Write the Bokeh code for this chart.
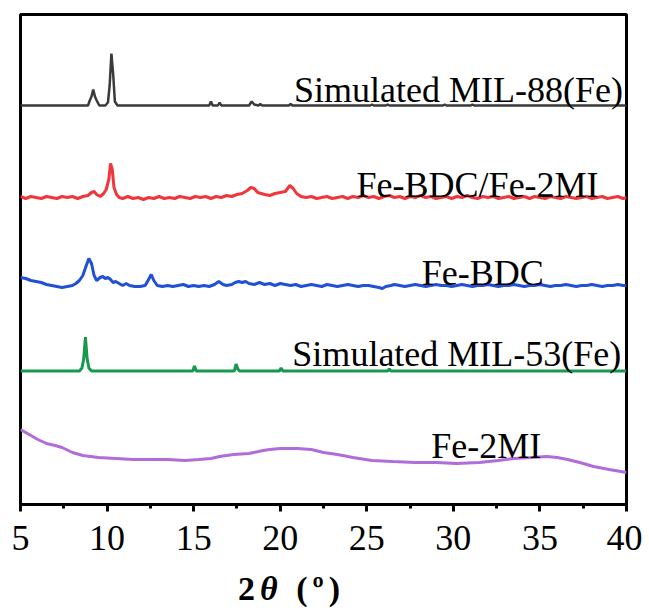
from bokeh.plotting import figure
from bokeh.models import Range1d, FixedTicker, Label, Div
from bokeh.layouts import column
from bokeh.embed import file_html
from bokeh.resources import INLINE

# ---- data (2theta in degrees, intensity in arbitrary units above each baseline) ----
mil88 = [(5.0, 0), (8.9, 0), (9.0, 5), (9.1, 9), (9.2, 16), (9.3, 9), (9.4, 5), (9.55, 0),
         (9.9, 0), (10.05, 3), (10.15, 20), (10.25, 52), (10.35, 32), (10.45, 4), (10.6, 0),
         (15.9, 0), (16.0, 4), (16.1, 0), (16.4, 0), (16.5, 3), (16.6, 0),
         (18.2, 0), (18.35, 4), (18.5, 1), (18.75, 0), (18.85, 1.5), (18.95, 0),
         (20.5, 0), (20.6, 1.5), (20.7, 0), (25.2, 0), (25.3, 1), (25.4, 0),
         (26.1, 0), (26.2, 1), (26.3, 0), (29.4, 0), (29.5, 1), (29.6, 0),
         (31.0, 0), (31.1, 1), (31.2, 0), (40.0, 0)]

fe_bdc_2mi = [(5.0, 1), (5.3, -1), (5.6, 1), (5.9, 0), (6.2, -1), (6.5, 1), (6.8, 0), (7.1, -1),
              (7.4, 1), (7.7, 0), (8.0, 1), (8.3, -1), (8.6, 1), (8.9, 2), (9.1, 5), (9.25, 6),
              (9.4, 3), (9.6, 1), (9.8, 4), (9.95, 8), (10.1, 18), (10.2, 34), (10.3, 28),
              (10.4, 10), (10.55, 3), (10.7, 0), (10.9, -1), (11.2, 1), (11.5, -1), (11.8, 0),
              (12.1, -2), (12.4, 0), (12.7, -1), (13.0, 1), (13.3, -1), (13.6, 0), (13.9, -1),
              (14.2, 1), (14.5, 0), (14.8, -1), (15.1, 1), (15.4, 0), (15.7, 1), (16.0, -1),
              (16.3, 1), (16.6, 0), (16.9, 2), (17.2, 1), (17.5, 3), (17.8, 4), (18.1, 7),
              (18.3, 10), (18.5, 9), (18.7, 5), (18.9, 4), (19.1, 3), (19.4, 2), (19.7, 4),
              (20.0, 5), (20.3, 6), (20.55, 12), (20.75, 9), (20.95, 4), (21.2, 1), (21.5, 0),
              (21.8, 1), (22.1, -1), (22.4, 0), (22.7, 1), (23.0, -1), (23.3, 0), (23.6, 1),
              (23.9, -1), (24.2, 1), (24.5, 0), (24.8, 2), (25.1, 0), (25.4, 1), (25.7, -1),
              (26.0, 1), (26.3, 2), (26.6, 0), (26.9, 1), (27.2, -1), (27.5, 1), (27.8, 0),
              (28.1, 2), (28.4, 0), (28.7, 1), (29.0, -1), (29.3, 0), (29.6, 1), (29.9, -1),
              (30.2, 1), (30.5, 0), (30.8, 2), (31.1, 0), (31.4, -1), (31.7, 1), (32.0, 0),
              (32.3, 1), (32.6, -1), (32.9, 0), (33.2, 1), (33.5, -1), (33.8, 0), (34.1, 1),
              (34.4, -1), (34.7, 1), (35.0, 0), (35.3, -1), (35.6, 1), (35.9, 0), (36.2, -1),
              (36.5, 1), (36.8, 0), (37.1, -1), (37.4, 0), (37.7, 1), (38.0, -1), (38.3, 0),
              (38.6, 1), (38.9, -1), (39.2, 0), (39.5, 1), (39.8, -1), (40.0, 0)]

fe_bdc = [(5.0, 8), (5.3, 7), (5.6, 5), (5.9, 4), (6.2, 3), (6.5, 1), (6.8, 0), (7.1, -1),
          (7.4, -2), (7.7, -1), (8.0, 0), (8.2, 2), (8.4, 5), (8.6, 10), (8.8, 20), (8.95, 27),
          (9.1, 22), (9.25, 10), (9.4, 5), (9.6, 8), (9.75, 9), (9.9, 7), (10.05, 8), (10.2, 6),
          (10.35, 3), (10.5, 4), (10.7, 2), (10.9, 0), (11.1, 2), (11.3, 0), (11.6, -1),
          (11.9, -1), (12.2, 0), (12.4, 6), (12.55, 11), (12.7, 5), (12.9, 0), (13.2, -1),
          (13.5, 0), (13.8, -1), (14.1, 0), (14.4, 1), (14.7, -1), (15.0, 0), (15.3, -1),
          (15.6, 0), (15.9, -1), (16.2, 1), (16.45, 4), (16.7, 1), (16.9, 0), (17.2, 1),
          (17.4, 3), (17.6, 4), (17.8, 3), (18.0, 4), (18.2, 2), (18.5, 1), (18.8, 3),
          (19.1, 1), (19.4, 2), (19.7, 0), (20.0, 2), (20.3, 1), (20.6, 0), (20.9, 1),
          (21.2, -1), (21.5, 0), (21.8, 1), (22.1, 0), (22.4, -1), (22.7, 1), (23.0, 0),
          (23.3, -1), (23.6, 0), (23.9, 1), (24.2, 0), (24.5, -1), (24.8, 0), (25.1, 0),
          (25.4, -1), (25.7, -2), (25.9, -3), (26.1, -1), (26.4, 0), (26.6, 1), (26.9, 0),
          (27.2, -1), (27.5, 0), (27.8, 1), (28.1, 0), (28.4, -1), (28.7, 0), (29.0, 1),
          (29.3, 0), (29.6, 0), (29.9, -1), (30.2, 0), (30.5, 1), (30.8, 0), (31.1, -1),
          (31.4, 0), (31.7, 0), (32.0, 1), (32.3, 0), (32.6, -1), (32.9, 0), (33.2, 0),
          (33.5, 1), (33.8, 0), (34.1, -1), (34.4, 0), (34.7, 0), (35.0, 1), (35.3, 0),
          (35.6, -1), (35.9, 0), (36.2, 0), (36.5, 1), (36.8, 0), (37.1, -1), (37.4, 0),
          (37.7, 0), (38.0, 1), (38.3, 0), (38.6, -1), (38.9, 0), (39.2, 0), (39.5, 1),
          (39.8, 0), (40.0, 0)]

mil53 = [(5.0, 0), (8.4, 0), (8.55, 3), (8.65, 12), (8.75, 34), (8.85, 12), (8.95, 3), (9.1, 0),
         (14.95, 0), (15.05, 5), (15.15, 0), (17.35, 0), (17.45, 7), (17.55, 2), (17.65, 0),
         (19.95, 0), (20.05, 3), (20.15, 0), (26.2, 0), (26.3, 2), (26.4, 0), (40.0, 0)]

fe_2mi = [(5.0, 75), (5.5, 70), (6.0, 65), (6.5, 61), (7.0, 59), (7.4, 57), (8.0, 52), (8.6, 49),
          (9.5, 47), (10.5, 46), (11.5, 45), (12.2, 45), (13.5, 45), (14.5, 44), (15.3, 45),
          (16.0, 46), (16.5, 48), (17.3, 50), (18.2, 51), (19.0, 54), (19.4, 55), (20.0, 56),
          (21.0, 56), (21.8, 55), (22.5, 52), (23.3, 50), (24.2, 47), (25.3, 44), (26.5, 43),
          (27.8, 42), (29.0, 42), (30.2, 41), (31.5, 42), (32.6, 44), (33.5, 46), (34.5, 47),
          (35.4, 48), (36.0, 47), (36.6, 45), (37.3, 42), (38.1, 38), (39.0, 35), (40.0, 32)]

series = [mil88, fe_bdc_2mi, fe_bdc, mil53, fe_2mi]
names = ["Simulated MIL-88(Fe)", "Fe-BDC/Fe-2MI", "Fe-BDC", "Simulated MIL-53(Fe)", "Fe-2MI"]
offsets = [399, 307, 219, 133.5, 0]
colors = ["#3a3a3a", "#f0363a", "#1f50d6", "#16994f", "#b06cd8"]
widths = [2.5, 3, 3, 3, 3]
label_x = [30.3, 31.4, 31.7, 30.2, 31.9]
label_y = [415, 320, 232, 151, 59]

x_ticks = [5, 10, 15, 20, 25, 30, 35, 40]
x_minor = [7.5, 12.5, 17.5, 22.5, 27.5, 32.5, 37.5]

p = figure(width=642, height=568, x_range=Range1d(5, 40), y_range=Range1d(0, 490),
           y_axis_type=None, toolbar_location=None, output_backend="svg",
           min_border_left=20, min_border_right=16, min_border_top=14, min_border_bottom=64)
p.grid.visible = False
p.outline_line_color = "black"
p.outline_line_width = 3
p.background_fill_color = "white"
p.border_fill_color = "white"

for data, off, col, lw in zip(series, offsets, colors, widths):
    xs = [d[0] for d in data]
    ys = [d[1] + off for d in data]
    p.line(xs, ys, line_color=col, line_width=lw)

for name, lx, ly in zip(names, label_x, label_y):
    p.add_layout(Label(x=lx, y=ly, text=name, text_align="center", text_baseline="alphabetic",
                       text_font="Liberation Serif", text_font_size="36px", text_color="black"))

ax = p.xaxis[0]
ax.ticker = FixedTicker(ticks=x_ticks, minor_ticks=x_minor)
ax.axis_line_width = 3
ax.axis_line_color = "black"
ax.major_tick_line_width = 3
ax.minor_tick_line_width = 3
ax.major_tick_in = 0
ax.major_tick_out = 7
ax.minor_tick_in = 0
ax.minor_tick_out = 4
ax.major_label_text_font = "Liberation Serif"
ax.major_label_text_font_size = "36px"
ax.major_label_text_color = "black"
ax.major_label_standoff = 14

# axis title: "2θ (º)" with bold-italic theta
xlabel_html = ('<div style="font-family:\'Liberation Serif\';font-size:34px;font-weight:bold;'
               'line-height:26px;padding-top:8px;padding-left:238px;letter-spacing:5px;'
               'white-space:nowrap;color:black;">'
               '2<i>θ</i>&nbsp;(º)</div>')
title_div = Div(text=xlabel_html, width=642, height=34, margin=(0, 0, 0, 0))

layout = column(p, title_div, spacing=0)
open("out.html", "w").write(file_html(layout, INLINE))
